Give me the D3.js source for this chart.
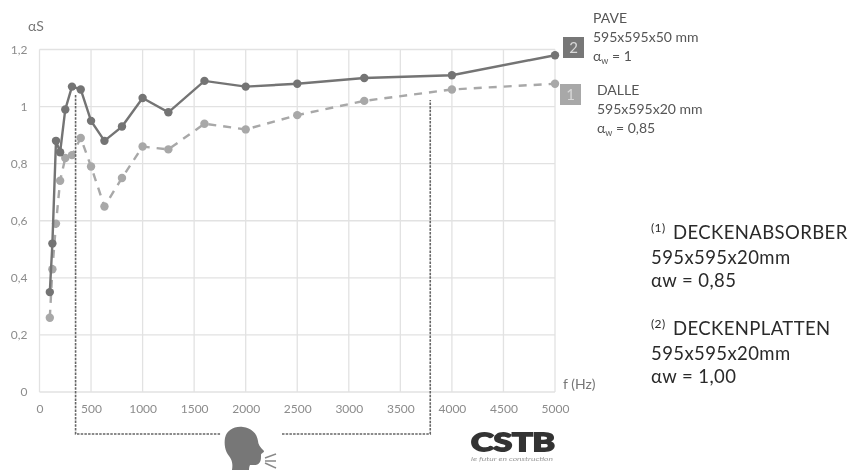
<!DOCTYPE html>
<html>
<head>
<meta charset="utf-8">
<script src="https://cdnjs.cloudflare.com/ajax/libs/d3/7.8.5/d3.min.js"></script>
<style>
  html, body { margin: 0; padding: 0; background: #fff; }
  svg { display: block; }
  text { font-family: Lato, "Open Sans", sans-serif; }
  .tick text { font-family: Lato, sans-serif; font-size: 12px; fill: #8c8c8c; }
  .soft { filter: blur(0.5px); }
</style>
</head>
<body>
<svg id="chart" width="861" height="470"></svg>
<script>
const freqs = [100, 125, 160, 200, 250, 315, 400, 500, 630, 800, 1000, 1250, 1600, 2000, 2500, 3150, 4000, 5000];
const pave = [0.35, 0.52, 0.88, 0.84, 0.99, 1.07, 1.06, 0.95, 0.88, 0.93, 1.03, 0.98, 1.09, 1.07, 1.08, 1.10, 1.11, 1.18];
const dalle = [0.26, 0.43, 0.59, 0.74, 0.82, 0.83, 0.89, 0.79, 0.65, 0.75, 0.86, 0.85, 0.94, 0.92, 0.97, 1.02, 1.06, 1.08];
const xTicks = [0, 500, 1000, 1500, 2000, 2500, 3000, 3500, 4000, 4500, 5000];
const yTicks = [0, 0.2, 0.4, 0.6, 0.8, 1, 1.2];
const bracketRange = [350, 3790];

const svg = d3.select("#chart");
const soft = svg.append("g").attr("class", "soft");
const x = d3.scaleLinear().domain([0, 5000]).range([39.5, 555]);
const y = d3.scaleLinear().domain([0, 1.2]).range([392, 49.5]);
const comma = d => String(d).replace(".", ",");

// grid
soft.append("g").selectAll("line").data(xTicks).join("line")
    .attr("x1", d => x(d)).attr("x2", d => x(d))
    .attr("y1", y(1.2)).attr("y2", y(0))
    .attr("stroke", "#e2e2e2").attr("stroke-width", 1.3);
soft.append("g").selectAll("line").data(yTicks).join("line")
    .attr("x1", x(0)).attr("x2", x(5000))
    .attr("y1", d => y(d)).attr("y2", d => y(d))
    .attr("stroke", "#e2e2e2").attr("stroke-width", 1.3);

// axes
const xAxis = soft.append("g").attr("transform", `translate(0,${y(0)})`)
    .call(d3.axisBottom(x).tickValues(xTicks).tickFormat(d3.format("d")).tickSize(0).tickPadding(12));
const yAxis = soft.append("g").attr("transform", `translate(${x(0)},0)`)
    .call(d3.axisLeft(y).tickValues(yTicks).tickFormat(comma).tickSize(0).tickPadding(12));
xAxis.select(".domain").remove();
yAxis.select(".domain").remove();

// series
function drawSeries(values, color, dash) {
    const line = d3.line().x((d, i) => x(freqs[i])).y(d => y(d));
    soft.append("path").datum(values)
        .attr("fill", "none")
        .attr("stroke", color)
        .attr("stroke-width", 2.4)
        .attr("stroke-dasharray", dash)
        .attr("d", line);
    soft.append("g").selectAll("circle").data(values).join("circle")
        .attr("cx", (d, i) => x(freqs[i]))
        .attr("cy", d => y(d))
        .attr("r", 4.2)
        .attr("fill", color);
}
drawSeries(dalle, "#a8a8a8", "8 7");
drawSeries(pave, "#747474", null);

// speech bracket
const bracketY = 434;
soft.append("path")
    .attr("d", `M${x(bracketRange[0])},95V${bracketY}H221`)
    .attr("fill", "none").attr("stroke", "#666").attr("stroke-width", 1.6).attr("stroke-dasharray", "2.5 1.2");
soft.append("path")
    .attr("d", `M282,${bracketY}H${x(bracketRange[1])}V100`)
    .attr("fill", "none").attr("stroke", "#666").attr("stroke-width", 1.6).attr("stroke-dasharray", "2.5 1.2");

// head icon
soft.append("path")
    .attr("d", "M232,470 C233,464 232,460 229,456 C225,451 224,444 225,438 C227,430 234,426 243,427 C251,428 257,433 258,441 C258,444 260,447 264,451 C264,453 261,453 261,455 C261,458 261,460 260,462 C258,466 254,465 250,465 C249,467 249,469 249,470 Z")
    .attr("fill", "#777");
soft.append("g").attr("stroke", "#888").attr("stroke-width", 1.5).selectAll("line")
    .data([[265, 458, 276, 454], [265, 461, 276, 461], [265, 463, 276, 468]]).join("line")
    .attr("x1", d => d[0]).attr("y1", d => d[1]).attr("x2", d => d[2]).attr("y2", d => d[3]);

// axis titles
soft.append("text").attr("x", 28).attr("y", 31).attr("font-size", 14).attr("fill", "#777").text("αS");
soft.append("text").attr("x", 563).attr("y", 389).attr("font-size", 14).attr("fill", "#777").text("f (Hz)");

// series badges
const badges = [
    { label: "2", bx: 563, by: 37, size: 21, fill: "#777" },
    { label: "1", bx: 560, by: 84, size: 21, fill: "#a8a8a8" }
];
badges.forEach(b => {
    soft.append("rect").attr("x", b.bx).attr("y", b.by).attr("width", b.size).attr("height", b.size).attr("fill", b.fill);
    soft.append("text").attr("x", b.bx + b.size / 2).attr("y", b.by + 16).attr("text-anchor", "middle")
        .attr("font-size", 15).attr("fill", "#d8d8d8").text(b.label);
});

// series notes
function note(tx, ty, lines, alpha) {
    const t = soft.append("text").attr("font-size", 14).attr("fill", "#555");
    lines.forEach((s, i) => t.append("tspan").attr("x", tx).attr("y", ty + i * 19).text(s));
    t.append("tspan").attr("x", tx).attr("y", ty + lines.length * 19).text("α");
    t.append("tspan").attr("dy", 3).attr("font-size", 9).text("w");
    t.append("tspan").attr("dy", -3).text(" = " + alpha);
}
note(593, 23, ["PAVE", "595x595x50 mm"], "1");
note(597, 95, ["DALLE", "595x595x20 mm"], "0,85");

// right-hand translations
function block(ys, sup, head, lines) {
    const t = svg.append("text").attr("font-size", 18.5).attr("letter-spacing", 0.4).attr("fill", "#2a2a2a");
    t.append("tspan").attr("x", 651).attr("y", ys[0] - 7).attr("font-size", 12).text(sup);
    t.append("tspan").attr("x", 673).attr("y", ys[0]).text(head);
    lines.forEach((s, i) => t.append("tspan").attr("x", 651).attr("y", ys[i + 1]).text(s));
}
block([239, 264, 287], "(1)", "DECKENABSORBER", ["595x595x20mm", "αw = 0,85"]);
block([335, 360, 383], "(2)", "DECKENPLATTEN", ["595x595x20mm", "αw = 1,00"]);

// logo
soft.append("text").attr("x", 471).attr("y", 451)
    .attr("font-family", "Liberation Sans").attr("font-weight", 700).attr("font-size", 24.5)
    .attr("stroke", "#333").attr("stroke-width", 1.8).attr("fill", "#333")
    .attr("textLength", 84).attr("lengthAdjust", "spacingAndGlyphs").text("CSTB");
soft.append("text").attr("x", 471).attr("y", 461)
    .attr("font-size", 6).attr("fill", "#999").attr("font-style", "italic")
    .attr("textLength", 82).attr("lengthAdjust", "spacingAndGlyphs").text("le futur en construction");
</script>
</body>
</html>
